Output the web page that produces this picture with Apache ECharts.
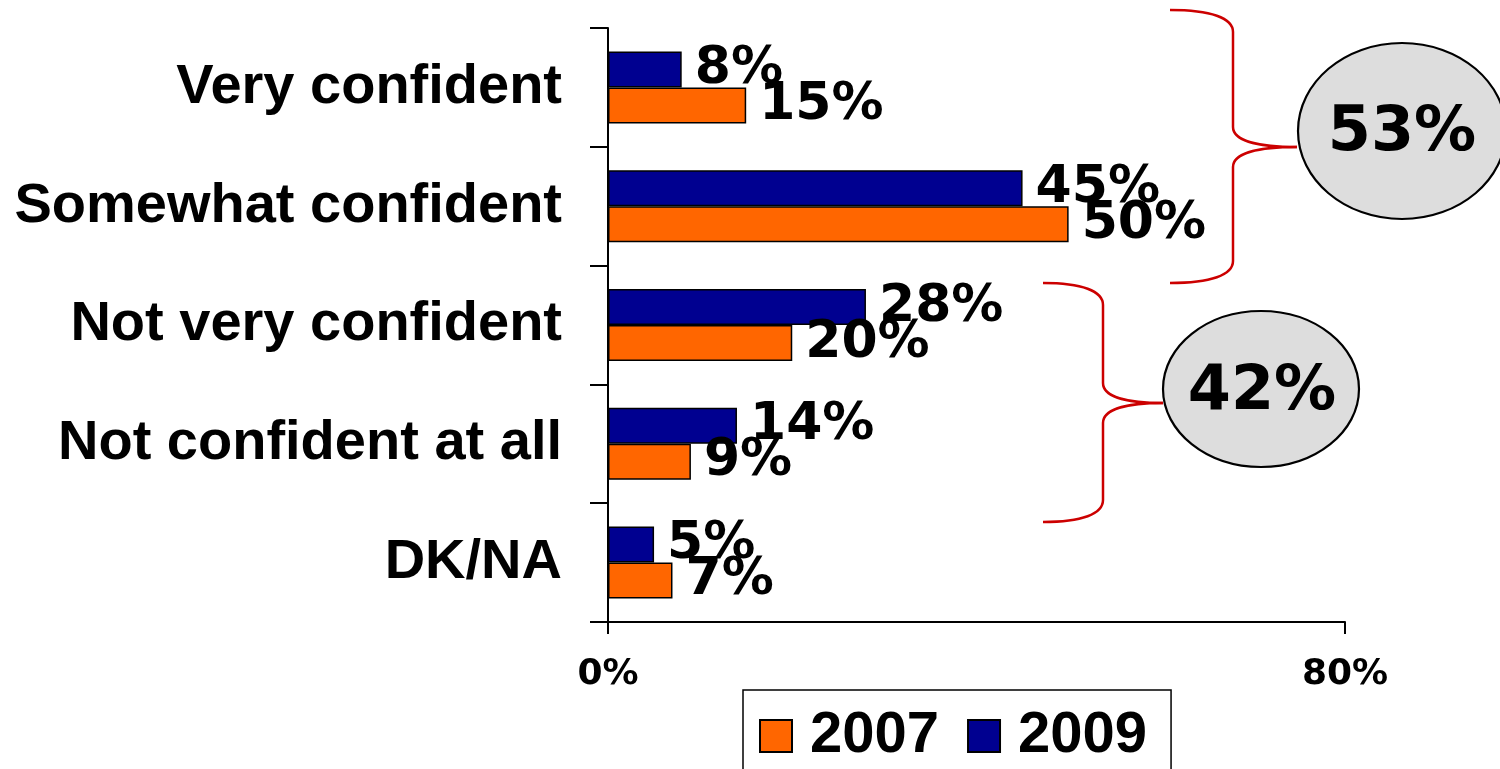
<!DOCTYPE html>
<html>
<head>
<meta charset="utf-8">
<script src="https://cdn.jsdelivr.net/npm/echarts@6/dist/echarts.min.js"></script>
<style>
html,body{margin:0;padding:0;background:#fff;}
#chart{width:1500px;height:769px;}
</style>
</head>
<body>
<div id="chart"></div>
<script>
var categories = ['Very confident', 'Somewhat confident', 'Not very confident', 'Not confident at all', 'DK/NA'];
var values2007 = [15, 50, 20, 9, 7];
var values2009 = [8, 45, 28, 14, 5];
var xTicks = [0, 80];

var confidentTotal = values2009[0] + values2009[1];
var notConfidentTotal = values2009[2] + values2009[3];

var chart = echarts.init(document.getElementById('chart'), null, {renderer: 'canvas'});

var labelFont = {fontFamily: 'DejaVu Sans', fontWeight: 'bold', fontSize: 52, color: '#000'};
var catFont = 'Liberation Sans';
var red = '#CC0000';

// right curly brace annotation built from bezier pieces and lines
function brace(x0, xm, xt, yTop, yTip, yBot) {
  var st = {stroke: red, lineWidth: 2.5, fill: null};
  var dTop = 22, dTip = 20;
  var els = [];
  els.push({type: 'bezierCurve', z: 10, shape: {x1: x0, y1: yTop, cpx1: x0 + (xm - x0) * 0.65, cpy1: yTop, cpx2: xm, cpy2: yTop + 8, x2: xm, y2: yTop + dTop}, style: st});
  els.push({type: 'line', z: 10, shape: {x1: xm, y1: yTop + dTop, x2: xm, y2: yTip - dTip}, style: st});
  els.push({type: 'bezierCurve', z: 10, shape: {x1: xm, y1: yTip - dTip, cpx1: xm, cpy1: yTip - 6, cpx2: xm + (xt - xm) * 0.4, cpy2: yTip, x2: xt, y2: yTip}, style: st});
  els.push({type: 'bezierCurve', z: 10, shape: {x1: xt, y1: yTip, cpx1: xm + (xt - xm) * 0.4, cpy1: yTip, cpx2: xm, cpy2: yTip + 6, x2: xm, y2: yTip + dTip}, style: st});
  els.push({type: 'line', z: 10, shape: {x1: xm, y1: yTip + dTip, x2: xm, y2: yBot - dTop}, style: st});
  els.push({type: 'bezierCurve', z: 10, shape: {x1: xm, y1: yBot - dTop, cpx1: xm, cpy1: yBot - 8, cpx2: x0 + (xm - x0) * 0.65, cpy2: yBot, x2: x0, y2: yBot}, style: st});
  return els;
}

var graphics = [].concat(
  brace(1170, 1233, 1297, 10, 147, 283),
  brace(1043, 1103, 1163, 283, 403, 522),
  [
    {type: 'ellipse', z: 11, shape: {cx: 1402, cy: 131, rx: 104, ry: 88}, style: {fill: '#DDDDDD', stroke: '#000', lineWidth: 2.2}},
    {type: 'text', z: 12, x: 1402, y: 134, style: {text: confidentTotal + '%', fontFamily: 'DejaVu Sans', fontWeight: 'bold', fontSize: 62, fill: '#000', align: 'center', verticalAlign: 'middle'}},
    {type: 'ellipse', z: 11, shape: {cx: 1261, cy: 389, rx: 98, ry: 78}, style: {fill: '#DDDDDD', stroke: '#000', lineWidth: 2.2}},
    {type: 'text', z: 12, x: 1262, y: 393, style: {text: notConfidentTotal + '%', fontFamily: 'DejaVu Sans', fontWeight: 'bold', fontSize: 62, fill: '#000', align: 'center', verticalAlign: 'middle'}}
  ]
);

var option = {
  animation: false,
  backgroundColor: '#fff',
  grid: {left: 608, top: 28, width: 737, height: 594, containLabel: false},
  legend: {
    data: ['2007', '2009'],
    left: 743, top: 690,
    orient: 'horizontal',
    itemWidth: 32, itemHeight: 32, itemGap: 28,
    icon: 'rect',
    borderColor: '#000', borderWidth: 1.5, borderRadius: 0,
    padding: [17, 24, 60, 16],
    textStyle: {fontFamily: catFont, fontWeight: 'bold', fontSize: 58, color: '#000', padding: [0, 0, 0, 13]}
  },
  xAxis: {
    type: 'value', min: xTicks[0], max: xTicks[1], interval: xTicks[1] - xTicks[0],
    splitLine: {show: false},
    axisLine: {show: true, lineStyle: {color: '#000', width: 2}},
    axisTick: {show: true, length: 12, lineStyle: {color: '#000', width: 2}},
    axisLabel: {formatter: '{value}%', fontFamily: 'DejaVu Sans', fontWeight: 'bold', fontSize: 36, color: '#000', margin: 35}
  },
  yAxis: {
    type: 'category', data: categories, inverse: true,
    axisLine: {show: true, lineStyle: {color: '#000', width: 2}},
    axisTick: {show: true, length: 18, lineStyle: {color: '#000', width: 2}},
    axisLabel: {fontFamily: catFont, fontWeight: 'bold', fontSize: 56, color: '#000', margin: 46}
  },
  series: [
    {
      name: '2009', type: 'bar', data: values2009,
      barWidth: 36, barGap: '0%',
      itemStyle: {color: '#000090', borderColor: '#000', borderWidth: 1.5},
      label: Object.assign({show: true, position: 'right', distance: 13, formatter: '{c}%'}, labelFont)
    },
    {
      name: '2007', type: 'bar', data: values2007,
      barWidth: 36, barGap: '0%',
      itemStyle: {color: '#FF6600', borderColor: '#000', borderWidth: 1.5},
      label: Object.assign({show: true, position: 'right', distance: 13, formatter: '{c}%'}, labelFont)
    }
  ],
  graphic: graphics
};
chart.setOption(option);
</script>
</body>
</html>
